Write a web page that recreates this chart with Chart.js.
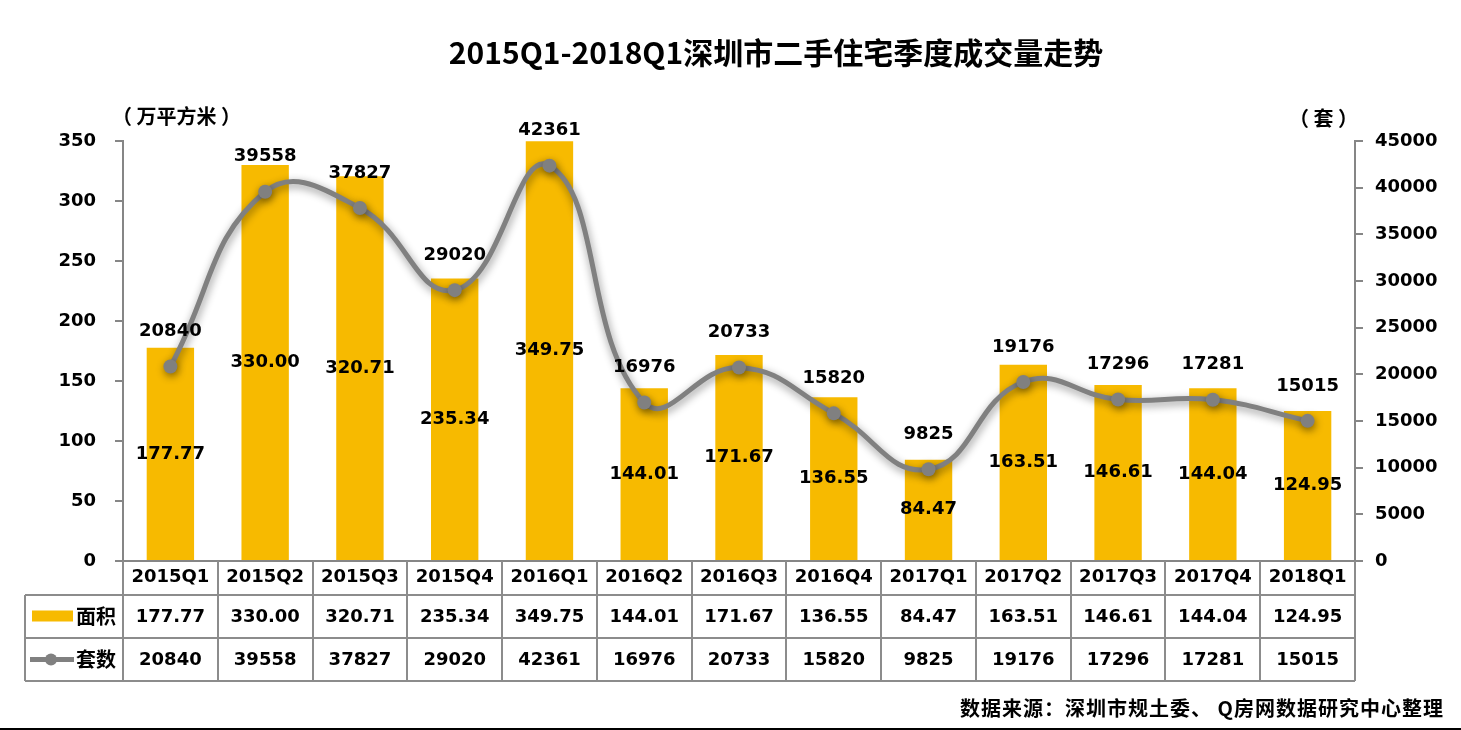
<!DOCTYPE html>
<html lang="zh-CN">
<head>
    <meta charset="UTF-8">
    <title>2015Q1-2018Q1深圳市二手住宅季度成交量走势</title>
    <style>
        html, body { margin: 0; padding: 0; background: #fff; }
        .chart-box { width: 1461px; height: 730px; position: relative; }
    </style>
    <script src="https://cdn.jsdelivr.net/npm/chart.js"></script>
</head>
<body>

<div class="chart-box">
    <canvas id="myChart" width="1461" height="730"></canvas>
</div>

<script>
    // chart data
    const quarters = ['2015Q1', '2015Q2', '2015Q3', '2015Q4', '2016Q1', '2016Q2', '2016Q3',
                      '2016Q4', '2017Q1', '2017Q2', '2017Q3', '2017Q4', '2018Q1'];
    const areaValues = [177.77, 330.00, 320.71, 235.34, 349.75, 144.01, 171.67,
                        136.55, 84.47, 163.51, 146.61, 144.04, 124.95];
    const unitValues = [20840, 39558, 37827, 29020, 42361, 16976, 20733,
                        15820, 9825, 19176, 17296, 17281, 15015];
    const leftTicks = [0, 50, 100, 150, 200, 250, 300, 350];
    const rightTicks = [0, 5000, 10000, 15000, 20000, 25000, 30000, 35000, 40000, 45000];

    const titleText = '2015Q1-2018Q1深圳市二手住宅季度成交量走势';
    const sourceText = '数据来源：深圳市规土委、 Q房网数据研究中心整理';

    const BAR_COLOR = '#F7BA00';
    const LINE_COLOR = '#808080';
    const AXIS_COLOR = '#868686';
    const NUM_FONT = '"DejaVu Sans", "Noto Sans CJK SC", sans-serif';
    const CJK_FONT = '"Noto Sans CJK SC", sans-serif';

    // shadow under the smooth line
    const lineShadow = {
        id: 'lineShadow',
        beforeDatasetDraw(chart, args) {
            if (args.meta.type !== 'line') return;
            const ctx = chart.ctx;
            ctx.save();
            ctx.shadowColor = 'rgba(0, 0, 0, 0.45)';
            ctx.shadowBlur = 9;
            ctx.shadowOffsetX = 1;
            ctx.shadowOffsetY = 3;
        },
        afterDatasetDraw(chart, args) {
            if (args.meta.type !== 'line') return;
            chart.ctx.restore();
        }
    };

    // value labels on bars and points
    const valueLabels = {
        id: 'valueLabels',
        afterDatasetsDraw(chart) {
            const ctx = chart.ctx;
            ctx.save();
            ctx.fillStyle = '#000';
            ctx.font = 'bold 18px ' + NUM_FONT;
            ctx.textAlign = 'center';
            ctx.textBaseline = 'middle';

            const barMeta = chart.getDatasetMeta(1);
            barMeta.data.forEach((bar, i) => {
                const mid = (bar.y + bar.base) / 2;
                ctx.fillText(areaValues[i].toFixed(2), bar.x, mid);
            });

            const lineMeta = chart.getDatasetMeta(0);
            lineMeta.data.forEach((pt, i) => {
                ctx.fillText(String(unitValues[i]), pt.x, pt.y - 35);
            });
            ctx.restore();
        }
    };

    // title, unit captions, data table, source note
    const decorations = {
        id: 'decorations',
        afterDraw(chart) {
            const ctx = chart.ctx;
            const area = chart.chartArea;
            const x = chart.scales.x;
            const step = (x.right - x.left) / quarters.length;
            const tableLeft = 25;
            const row1 = area.bottom + 34;
            const row2 = row1 + 43;
            const row3 = row2 + 43;

            ctx.save();

            // title
            ctx.fillStyle = '#000';
            ctx.textBaseline = 'middle';
            ctx.textAlign = 'center';
            ctx.font = 'bold 30px ' + CJK_FONT;
            ctx.fillText(titleText, 776, 53);

            // unit captions
            ctx.font = 'bold 20px ' + CJK_FONT;
            ctx.textAlign = 'left';
            ctx.fillText('（ 万平方米 ）', 112, 116);
            ctx.textAlign = 'right';
            ctx.fillText('（ 套 ）', 1358, 118);

            // horizontal axis line
            ctx.strokeStyle = AXIS_COLOR;
            ctx.lineWidth = 2;
            ctx.beginPath();
            ctx.moveTo(area.left - 8, area.bottom);
            ctx.lineTo(area.right + 8, area.bottom);
            ctx.stroke();

            // table grid
            ctx.strokeStyle = '#8C8C8C';
            ctx.beginPath();
            for (let i = 0; i <= quarters.length; i++) {
                const gx = Math.round(x.left + i * step);
                ctx.moveTo(gx, area.bottom);
                ctx.lineTo(gx, row3);
            }
            [row1, row2, row3].forEach(ry => {
                ctx.moveTo(tableLeft, ry);
                ctx.lineTo(x.right, ry);
            });
            ctx.moveTo(tableLeft, row1);
            ctx.lineTo(tableLeft, row3);
            ctx.stroke();

            // table values
            ctx.fillStyle = '#000';
            ctx.textAlign = 'center';
            ctx.font = 'bold 18px ' + NUM_FONT;
            quarters.forEach((q, i) => {
                const cx = x.getPixelForValue(i);
                ctx.fillText(areaValues[i].toFixed(2), cx, (row1 + row2) / 2 + 1);
                ctx.fillText(String(unitValues[i]), cx, (row2 + row3) / 2 + 1);
            });

            // legend keys inside the table
            const y2 = (row1 + row2) / 2;
            const y3 = (row2 + row3) / 2;
            ctx.fillStyle = BAR_COLOR;
            ctx.fillRect(32, y2 - 6, 41, 11);
            ctx.strokeStyle = LINE_COLOR;
            ctx.lineWidth = 5;
            ctx.beginPath();
            ctx.moveTo(30, y3);
            ctx.lineTo(74, y3);
            ctx.stroke();
            ctx.fillStyle = LINE_COLOR;
            ctx.beginPath();
            ctx.arc(51, y3, 6, 0, Math.PI * 2);
            ctx.fill();

            ctx.fillStyle = '#000';
            ctx.textAlign = 'left';
            ctx.font = 'bold 20px ' + CJK_FONT;
            ctx.fillText('面积', 76, y2);
            ctx.fillText('套数', 76, y3);

            // source note
            ctx.textAlign = 'right';
            ctx.font = 'bold 20px ' + CJK_FONT;
            ctx.letterSpacing = '1px';
            ctx.fillText(sourceText, 1444, 708);
            ctx.letterSpacing = '0px';

            // bottom rule
            ctx.strokeStyle = '#000';
            ctx.lineWidth = 2;
            ctx.beginPath();
            ctx.moveTo(0, 729);
            ctx.lineTo(chart.width, 729);
            ctx.stroke();

            ctx.restore();
        }
    };

    const tickFont = { family: NUM_FONT, size: 18, weight: 'bold' };

    const ctx = document.getElementById('myChart').getContext('2d');
    const myChart = new Chart(ctx, {
        data: {
            labels: quarters,
            datasets: [
                {
                    type: 'line',
                    label: '套数',
                    data: unitValues,
                    yAxisID: 'y1',
                    order: 0,
                    borderColor: LINE_COLOR,
                    backgroundColor: LINE_COLOR,
                    borderWidth: 5,
                    tension: 0.45,
                    pointRadius: 7,
                    pointBackgroundColor: LINE_COLOR,
                    pointBorderWidth: 0
                },
                {
                    type: 'bar',
                    label: '面积',
                    data: areaValues,
                    yAxisID: 'y',
                    order: 1,
                    backgroundColor: BAR_COLOR,
                    categoryPercentage: 1,
                    barPercentage: 0.5
                }
            ]
        },
        options: {
            responsive: false,
            animation: false,
            layout: { padding: { top: 141, left: 0, right: 0, bottom: 0 } },
            plugins: {
                legend: { display: false },
                tooltip: { enabled: false },
                title: { display: false }
            },
            scales: {
                x: {
                    grid: { display: false, drawTicks: false },
                    border: { display: false },
                    ticks: { color: '#000', padding: 6, maxRotation: 0, font: tickFont },
                    afterFit: s => { s.height = 169; }
                },
                y: {
                    position: 'left',
                    min: 0,
                    max: 350,
                    afterBuildTicks: s => { s.ticks = leftTicks.map(v => ({ value: v })); },
                    grid: { drawOnChartArea: false, tickLength: 8, color: AXIS_COLOR, lineWidth: 2 },
                    border: { color: AXIS_COLOR, width: 2 },
                    ticks: { color: '#000', padding: 19, font: tickFont, callback: v => String(v) },
                    afterFit: s => { s.width = 123; }
                },
                y1: {
                    position: 'right',
                    min: 0,
                    max: 45000,
                    afterBuildTicks: s => { s.ticks = rightTicks.map(v => ({ value: v })); },
                    grid: { drawOnChartArea: false, tickLength: 8, color: AXIS_COLOR, lineWidth: 2 },
                    border: { color: AXIS_COLOR, width: 2 },
                    ticks: { color: '#000', padding: 12, font: tickFont, callback: v => String(v) },
                    afterFit: s => { s.width = 106; }
                }
            }
        },
        plugins: [lineShadow, valueLabels, decorations]
    });
</script>

</body>
</html>
